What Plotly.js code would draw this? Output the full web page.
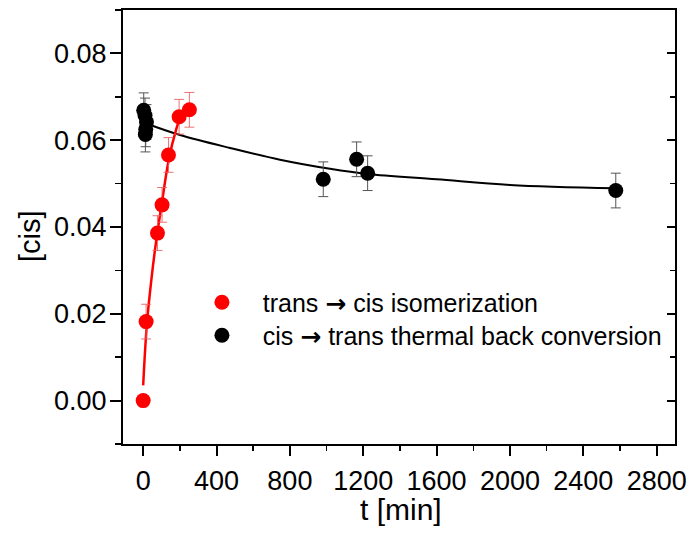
<!DOCTYPE html>
<html>
<head>
<meta charset="utf-8">
<script src="https://cdn.plot.ly/plotly-3.0.1.min.js"></script>
<style>html,body{margin:0;padding:0;background:#fff;}#chart{width:689px;height:533px;}</style>
</head>
<body>
<div id="chart"></div>
<script>
// trans -> cis isomerization (red)
const redT = [0, 16, 78, 103, 138, 196, 252];
const redV = [0.0000, 0.0182, 0.0386, 0.0451, 0.0566, 0.0654, 0.0670];
const redErr = [0, 0.004, 0.004, 0.004, 0.004, 0.004, 0.004];
// fitted curve for red
const redFitT = [0, 20, 45, 70, 100, 140, 180, 215];
const redFitV = [0.0035, 0.0175, 0.0280, 0.0365, 0.0450, 0.0556, 0.0625, 0.0668];

// cis -> trans thermal back conversion (black)
const blackT = [3, 10, 18, 14, 12, 982, 1164, 1224, 2577];
const blackV = [0.0669, 0.0657, 0.0642, 0.0625, 0.0613, 0.0510, 0.0556, 0.0524, 0.0484];
const blackErr = [0.004, 0.004, 0.004, 0.004, 0.004, 0.004, 0.004, 0.004, 0.004];
// fitted curve for black
const blackFitT = [20, 201, 474, 746, 1019, 1224, 1600, 2000, 2577];
const blackFitV = [0.0638, 0.0612, 0.0582, 0.0555, 0.0534, 0.0522, 0.0510, 0.0497, 0.0489];

const xTickVals = [0, 400, 800, 1200, 1600, 2000, 2400, 2800];
const yTickVals = [0.00, 0.02, 0.04, 0.06, 0.08];

const FONT = 'Liberation Sans, Arial, sans-serif';
const ARROW = '<b><span style="font-family:DejaVu Sans">→</span></b>';
const PAD = '\u00a0\u00a0\u00a0';

const traces = [
  {x: blackFitT, y: blackFitV, mode: 'lines', line: {color: '#000', width: 2, shape: 'spline'}, showlegend: false, hoverinfo: 'skip'},
  {x: blackT, y: blackV, mode: 'markers', name: PAD + 'cis ' + ARROW + ' trans thermal back conversion',
   legend: 'legend2',
   marker: {color: '#000', size: 15},
   error_y: {type: 'data', array: blackErr, visible: true, color: '#555', thickness: 1, width: 5}},
  {x: redFitT, y: redFitV, mode: 'lines', line: {color: '#ff0000', width: 2.5, shape: 'spline'}, showlegend: false, hoverinfo: 'skip'},
  {x: redT, y: redV, mode: 'markers', name: PAD + 'trans ' + ARROW + ' cis isomerization',
   legend: 'legend',
   marker: {color: '#ff0000', size: 15},
   error_y: {type: 'data', array: redErr, visible: true, color: 'rgba(235,90,90,0.85)', thickness: 1, width: 5}},
  {x: [0], y: [0], yaxis: 'y2', mode: 'markers', marker: {opacity: 0}, showlegend: false, hoverinfo: 'skip'}
];

const legendFont = {size: 25, family: FONT, color: '#000'};

const layout = {
  width: 689, height: 533,
  margin: {l: 123, r: 14, t: 10, b: 89},
  paper_bgcolor: '#fff', plot_bgcolor: '#fff',
  font: {family: FONT, color: '#000'},
  showlegend: true,
  legend: {x: 0.143, y: 0.379, xanchor: 'left', yanchor: 'top', font: legendFont, bgcolor: 'rgba(0,0,0,0)', borderwidth: 0},
  legend2: {x: 0.143, y: 0.303, xanchor: 'left', yanchor: 'top', font: legendFont, bgcolor: 'rgba(0,0,0,0)', borderwidth: 0},
  xaxis: {
    range: [-110, 2900],
    tickvals: xTickVals, ticktext: xTickVals.map(String),
    ticks: 'outside', ticklen: 10, tickwidth: 2, tickcolor: '#000',
    minor: {dtick: 200, tick0: 0, ticks: 'outside', ticklen: 5, tickwidth: 1.5, tickcolor: '#000'},
    showline: true, linecolor: '#000', linewidth: 2, mirror: true,
    showgrid: false, zeroline: false,
    ticklabelstandoff: 2,
    tickfont: {size: 27, family: FONT, color: '#000'}
  },
  yaxis: {
    range: [-0.01, 0.09],
    tickvals: yTickVals, ticktext: yTickVals.map(v => v.toFixed(2)),
    ticks: 'outside', ticklen: 11, tickwidth: 2, tickcolor: '#000',
    minor: {dtick: 0.01, tick0: 0, ticks: 'outside', ticklen: 6, tickwidth: 1.5, tickcolor: '#000'},
    showline: true, linecolor: '#000', linewidth: 2, mirror: true,
    showgrid: false, zeroline: false,
    ticklabelstandoff: -2,
    tickfont: {size: 27, family: FONT, color: '#000'}
  },
  yaxis2: {
    overlaying: 'y', side: 'right', range: [-0.01, 0.09],
    tickvals: yTickVals, showticklabels: false,
    ticks: 'inside', ticklen: 8, tickwidth: 2, tickcolor: '#000',
    minor: {dtick: 0.01, tick0: 0, ticks: 'inside', ticklen: 5, tickwidth: 1.5, tickcolor: '#000'},
    showgrid: false, zeroline: false, showline: false
  },
  annotations: [
    {text: 't [min]', xref: 'paper', yref: 'paper', x: 0.5036, y: -0.1498, xanchor: 'center', yanchor: 'middle',
     showarrow: false, font: {size: 30, family: FONT, color: '#000'}},
    {text: '[cis]', xref: 'paper', yref: 'paper', x: -0.1685, y: 0.479, xanchor: 'center', yanchor: 'middle',
     textangle: -90, showarrow: false, font: {size: 29, family: FONT, color: '#000'}}
  ]
};

Plotly.newPlot('chart', traces, layout, {staticPlot: true, displayModeBar: false});
</script>
</body>
</html>
